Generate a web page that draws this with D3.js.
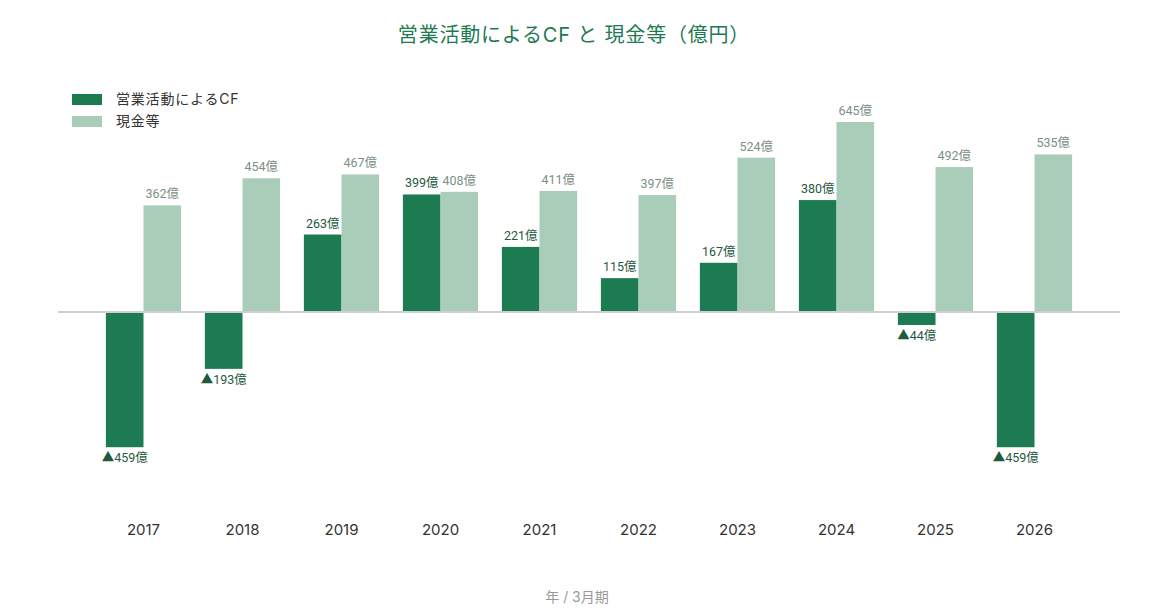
<!DOCTYPE html>
<html><head><meta charset="utf-8">
<script src="https://cdn.jsdelivr.net/npm/d3@7"></script>
<style>body{margin:0;background:#fff;font-family:Roboto,"Noto Sans CJK JP",sans-serif;}</style>
</head><body><svg id="c" width="1155" height="616"></svg>
<script>
const years = ["2017","2018","2019","2020","2021","2022","2023","2024","2025","2026"];
const seriesNames = ["営業活動によるCF","現金等"];
const cfValues = [-459,-193,263,399,221,115,167,380,-44,-459];
const cashValues = [362,454,467,408,411,397,524,645,492,535];
const colors = ["#1d7b52","#a9cdb8"];
const labelColors = ["#1f5a3e","#7d8f85"];

const svg = d3.select("#c");
const font = 'Roboto,"Noto Sans CJK JP",sans-serif';
const font2 = 'Inter,"Noto Sans CJK JP",sans-serif';
const x0 = d3.scaleBand().domain(years).range([94,1084]).paddingInner(0.24).paddingOuter(0.12);
const x1 = d3.scaleBand().domain([0,1]).range([0,x0.bandwidth()]);
const y = d3.scaleLinear().domain([-500,700]).range([459.3,105.8]);

svg.append("text").attr("x",574).attr("y",42).attr("text-anchor","middle")
  .attr("font-size",20).attr("letter-spacing",0.8).attr("fill","#1e7a52").attr("font-family",font2).text("営業活動によるCF と 現金等（億円）");

const legend = svg.append("g");
seriesNames.forEach((n,i)=>{
  legend.append("rect").attr("x",72).attr("y",94+i*22).attr("width",30).attr("height",11).attr("fill",colors[i]);
  legend.append("text").attr("x",116).attr("y",104+i*22).attr("font-size",14).attr("letter-spacing",0.8).attr("fill","#333").attr("font-family",font2).text(n);
});

const data = years.map((yr,i)=>({yr, vals:[cfValues[i],cashValues[i]]}));
const g = svg.append("g");
data.forEach(d=>{
  d.vals.forEach((v,j)=>{
    const bx = x0(d.yr)+x1(j);
    g.append("rect").attr("x",bx).attr("width",x1.bandwidth())
      .attr("y",y(Math.max(0,v))).attr("height",Math.abs(y(v)-y(0))).attr("fill",colors[j]);
    const t = g.append("text").attr("x",bx+x1.bandwidth()/2).attr("text-anchor","middle")
      .attr("font-size",12.5).attr("fill",labelColors[j]).attr("font-family",font);
    if(v>=0){ t.attr("y",y(v)-7).text(v+"億"); }
    else { t.attr("y",y(v)+15).text("▲"+Math.abs(v)+"億"); }
  });
});

svg.append("line").attr("x1",58).attr("x2",1120).attr("y1",y(0)).attr("y2",y(0)).attr("stroke","#cfcfcf").attr("stroke-width",2);

const xAxis = svg.append("g").attr("transform","translate(0,516)").call(d3.axisBottom(x0).tickSize(0).tickPadding(8));
xAxis.select(".domain").remove();
xAxis.selectAll("text").attr("font-size",15).attr("fill","#333").attr("font-family",font2);

svg.append("text").attr("x",577).attr("y",602).attr("text-anchor","middle").attr("font-size",14)
  .attr("fill","#999").attr("font-family",font2).text("年 / 3月期");
</script></body></html>
